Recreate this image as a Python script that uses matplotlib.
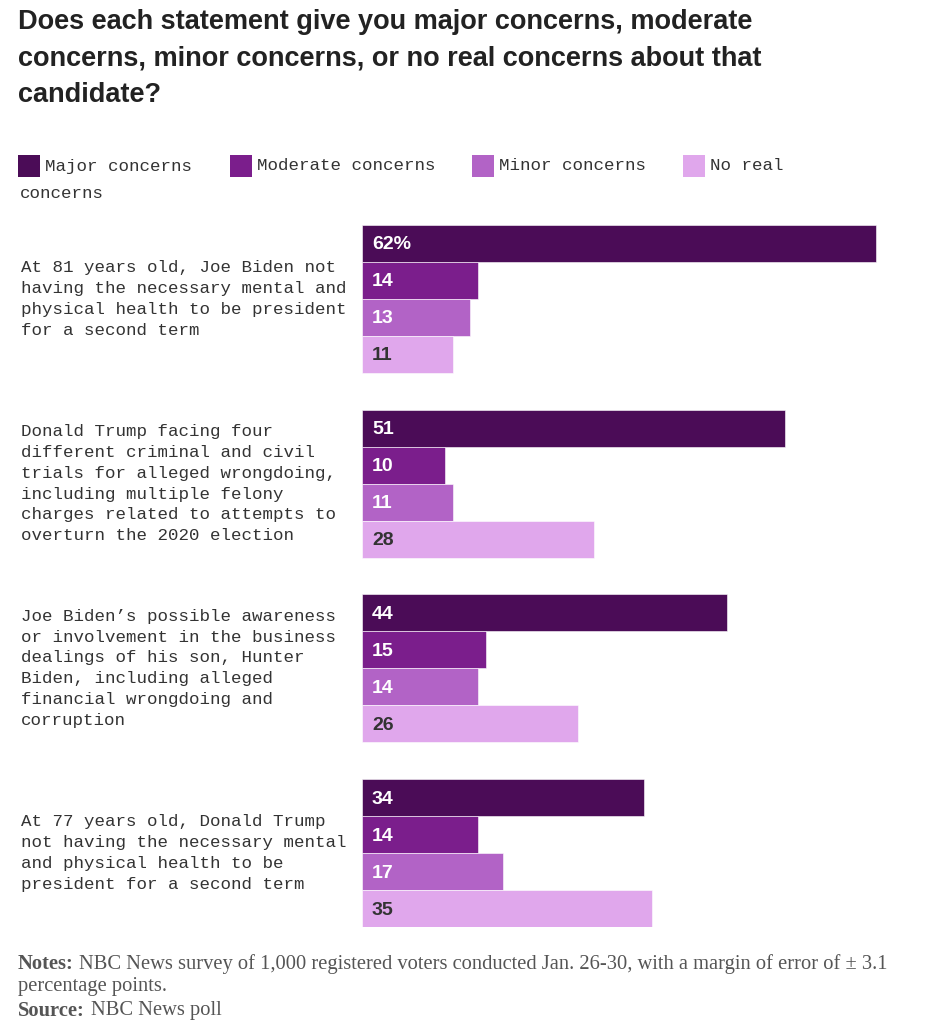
#!/usr/bin/env python3
"""NBC poll: concerns about each candidate statement"""
import matplotlib
matplotlib.use('Agg')
import matplotlib.pyplot as plt
from matplotlib.patches import Rectangle
import numpy as np

W, H = 930, 1024

statements = [
    'At 81 years old, Joe Biden not\nhaving the necessary mental and\nphysical health to be president\nfor a second term',
    'Donald Trump facing four\ndifferent criminal and civil\ntrials for alleged wrongdoing,\nincluding multiple felony\ncharges related to attempts to\noverturn the 2020 election',
    'Joe Biden\u2019s possible awareness\nor involvement in the business\ndealings of his son, Hunter\nBiden, including alleged\nfinancial wrongdoing and\ncorruption',
    'At 77 years old, Donald Trump\nnot having the necessary mental\nand physical health to be\npresident for a second term',
]
series = ['Major concerns', 'Moderate concerns', 'Minor concerns', 'No real concerns']
major = [62, 51, 44, 34]
moderate = [14, 10, 15, 14]
minor = [13, 11, 14, 17]
no_real = [11, 28, 26, 35]
colors = ['#4b0c57', '#7b1e8c', '#b263c6', '#e0a7ec']
label_colors = ['white', 'white', 'white', '#333333']

title = ('Does each statement give you major concerns, moderate\n'
         'concerns, minor concerns, or no real concerns about that\n'
         'candidate?')

mono = ['Liberation Mono', 'DejaVu Sans Mono']
grot = ['Liberation Sans', 'DejaVu Sans']
serif = ['Liberation Serif', 'DejaVu Serif']
txt = '#333333'
note_c = '#555555'

def fx(px):
    return px / W

def fy(py):
    return 1 - py / H

fig = plt.figure(figsize=(W / 100, H / 100), dpi=100)
fig.patch.set_facecolor('white')

# bars axes: x from 362px, y from 225px to 927px
ax = fig.add_axes([fx(362), fy(927), fx(930 - 362), (927 - 225) / H])
px_per_unit = (876 - 362) / 62.0
ax.set_xlim(0, (930 - 362) / px_per_unit)
ax.set_ylim(18.5, -0.5)
ax.axis('off')

data = np.array([major, moderate, minor, no_real])
for g in range(len(statements)):
    for i in range(len(series)):
        y = g * 5 + i
        v = data[i, g]
        ax.barh(y, v, height=1.0, color=colors[i], edgecolor='#ffffff',
                linewidth=0.4)
        lab = f'{v}%' if (g == 0 and i == 0) else f'{v}'
        ax.text(1.2, y + 0.04, lab, color=label_colors[i], fontsize=14,
                fontweight='bold', family=grot, va='center', ha='left')
    fig.text(fx(21), fy(225) - (g * 5 + 2) * (927 - 225) / 19 / H,
             statements[g], family=mono, fontsize=12.6, color=txt,
             va='center', ha='left', linespacing=1.49)

# title
fig.text(fx(18), fy(9), title, family=grot, fontsize=19.5, fontweight='bold',
         color='#222222', va='top', ha='left', linespacing=1.53)

# legend
leg_x = [18, 230, 472, 683]
for i, name in enumerate(series):
    fig.patches.append(Rectangle((fx(leg_x[i]), fy(177)), fx(22), 22 / H,
                                 transform=fig.transFigure,
                                 facecolor=colors[i], edgecolor='none'))
    shown = 'No real' if i == 3 else name
    fig.text(fx(leg_x[i] + 27), fy(166), shown, family=mono, fontsize=12.6,
             color=txt, va='center', ha='left')
fig.text(fx(20), fy(193), 'concerns', family=mono, fontsize=12.6,
         color=txt, va='center', ha='left')

# notes
fig.text(fx(18), fy(964), 'Notes:', family=serif, fontsize=14.8,
         fontweight='bold', color=note_c, va='center', ha='left')
fig.text(fx(79), fy(964),
         'NBC News survey of 1,000 registered voters conducted Jan. 26-30, '
         'with a margin of error of \u00b1 3.1',
         family=serif, fontsize=14.8, color=note_c, va='center', ha='left')
fig.text(fx(18), fy(986), 'percentage points.', family=serif, fontsize=14.8,
         color=note_c, va='center', ha='left')
fig.text(fx(18), fy(1011), 'Source:', family=serif, fontsize=14.8,
         fontweight='bold', color=note_c, va='center', ha='left')
fig.text(fx(91), fy(1011), 'NBC News poll', family=serif, fontsize=14.8,
         color=note_c, va='center', ha='left')

fig.savefig('out.png', dpi=100)
